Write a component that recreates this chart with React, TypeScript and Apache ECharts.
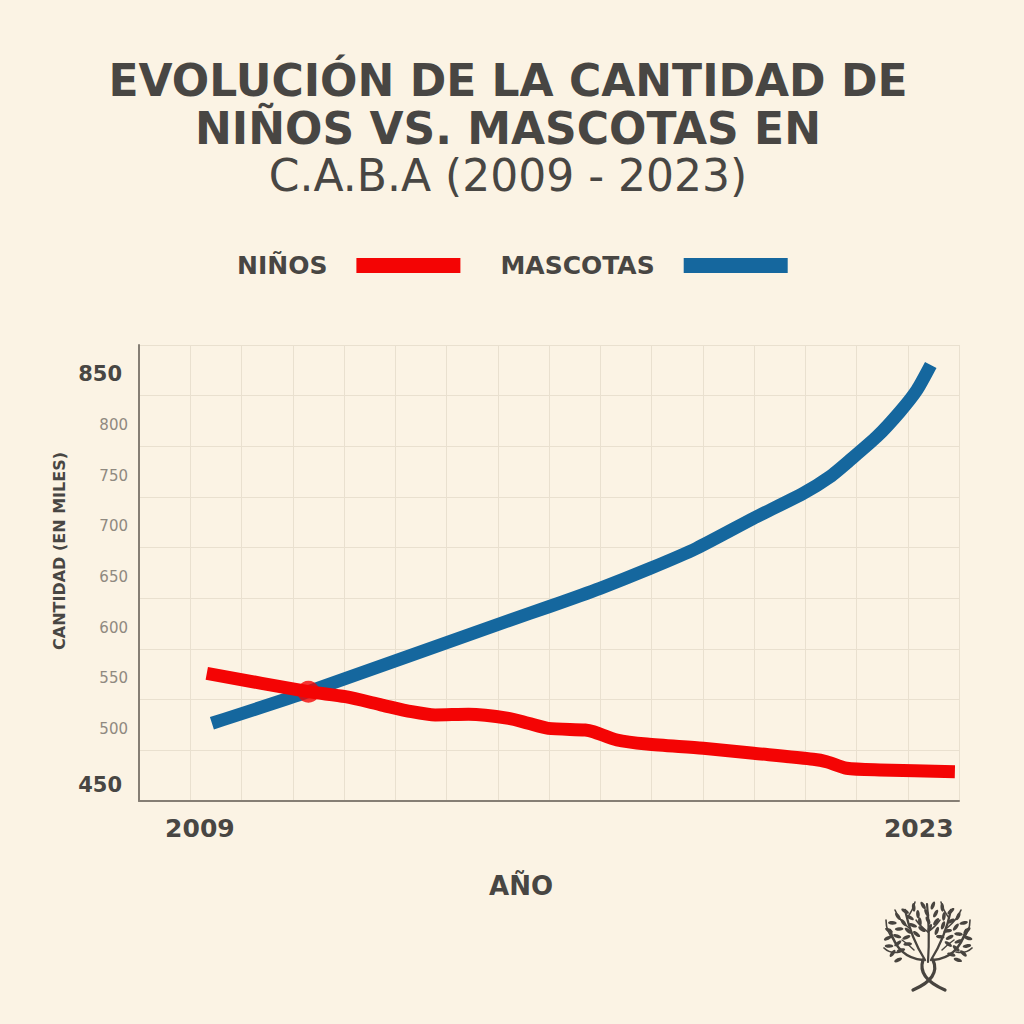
import React, { useEffect, useRef } from 'react';
import * as echarts from 'echarts';

// ---------- text ----------
const TITLE_LINES = ['EVOLUCIÓN DE LA CANTIDAD DE', 'NIÑOS VS. MASCOTAS EN', 'C.A.B.A (2009 - 2023)'];
const SERIES_NAMES = ['NIÑOS', 'MASCOTAS'];
const X_AXIS_NAME = 'AÑO';
const Y_AXIS_NAME = 'CANTIDAD (EN MILES)';

// ---------- ticks ----------
const X_TICK_LABELS = [2009, 2023];
const Y_TICK_LABELS = [450, 500, 550, 600, 650, 700, 750, 800, 850];
const Y_BOLD_LABELS = [450, 850];

// ---------- data (miles) ----------
const NINOS_YEARS = [2008.9, 2010.88, 2011.6, 2012.31, 2012.89, 2013.35, 2014.0, 2014.78, 2015.16, 2015.55, 2016.27, 2016.43, 2016.89, 2017.47, 2018.57, 2019.55, 2020.71, 2020.97, 2021.36, 2022.01, 2023.47];
const NINOS_VALUES = [555.0, 536.9, 531.9, 523.7, 517.1, 513.9, 514.6, 510.6, 505.7, 500.7, 499.1, 497.4, 489.2, 485.2, 481.0, 476.1, 470.2, 467.8, 461.3, 459.6, 457.9];

const MASCOTAS_YEARS = [2009.0, 2010.88, 2014.81, 2015.56, 2016.56, 2017.54, 2018.44, 2019.55, 2020.52, 2021.04, 2021.43, 2021.95, 2022.4, 2022.73, 2023.0];
const MASCOTAS_VALUES = [505.7, 536.9, 607.6, 620.7, 638.9, 658.6, 678.4, 708.0, 732.7, 749.1, 765.5, 788.5, 813.2, 834.6, 859.3];

const CROSS_YEAR = [2010.88];
const CROSS_VALUE = [536.9];

// axis ranges
const X_MIN = 2007.58;
const X_MAX = 2023.55;
const Y_MIN = 429;
const Y_MAX = 879;
const GRID_COLS = 16;
const GRID_ROWS = 9;

// ---------- styles ----------
const BG = '#fbf3e4';
const DARK = '#484643';
const GRAY_LABEL = '#8f8980';
const AXIS_COLOR = '#857e74';
const GRID_COLOR = '#e9e0cf';
const RED = '#f40404';
const BLUE = '#15679e';
const FONT = '"DejaVu Sans", sans-serif';

function buildLogo(): any[] {
  const cx = 928;
  const cy = 938;
  const c = '#48443f';
  const els: any[] = [];
  const st = (w: number) => ({ stroke: c, lineWidth: w, fill: null, lineCap: 'round' });
  const curve = (x1: number, y1: number, qx: number, qy: number, x2: number, y2: number, w: number) => {
    els.push({ type: 'bezierCurve', shape: { x1, y1, cpx1: qx, cpy1: qy, x2, y2 }, style: st(w) });
  };
  // crossed trunk / roots
  curve(913, 990, 941, 978, 933, 960, 3.2);
  curve(945, 990, 917, 978, 923, 960, 3.2);
  // main branches
  curve(923, 960, 898, 958, 890, 930, 2.6);
  curve(933, 960, 958, 958, 966, 930, 2.6);
  curve(925, 960, 911, 938, 905, 910, 2.3);
  curve(931, 960, 945, 938, 951, 910, 2.3);
  curve(928, 962, 930, 932, 927, 904, 2.2);
  // secondary branches
  curve(900, 952, 890, 954, 884, 948, 1.7);
  curve(956, 952, 966, 954, 972, 948, 1.7);
  curve(894, 940, 886, 932, 886, 920, 1.6);
  curve(962, 940, 970, 932, 970, 920, 1.6);
  curve(909, 928, 899, 920, 895, 910, 1.6);
  curve(947, 928, 957, 920, 961, 910, 1.6);
  curve(907, 918, 913, 910, 915, 902, 1.5);
  curve(949, 918, 943, 910, 941, 902, 1.5);
  curve(928, 932, 920, 926, 916, 920, 1.5);
  curve(928, 932, 936, 926, 940, 920, 1.5);
  curve(914, 950, 908, 944, 902, 940, 1.5);
  curve(942, 950, 948, 944, 954, 940, 1.5);
  // leaves
  const rings = [
    { r: 39, from: -222, to: 42, n: 20, off: 0 },
    { r: 30, from: -215, to: 35, n: 16, off: 6 },
    { r: 21, from: -200, to: 20, n: 11, off: 0 },
    { r: 12, from: -165, to: -15, n: 5, off: 8 },
  ];
  rings.forEach((ring) => {
    for (let i = 0; i < ring.n; i++) {
      const a = ring.from + ((ring.to - ring.from) * i) / (ring.n - 1) + ring.off;
      const rad = (a * Math.PI) / 180;
      const x = cx + ring.r * 1.03 * Math.cos(rad);
      const y = cy + ring.r * 0.84 * Math.sin(rad);
      els.push({
        type: 'ellipse',
        x,
        y,
        rotation: ((90 - a + (i % 2 ? 25 : -15)) * Math.PI) / 180,
        shape: { cx: 0, cy: 0, rx: 1.8, ry: 4.3 },
        style: { fill: c },
      });
    }
  });
  return els;
}

function titleText(text: string, y: number, bold: boolean) {
  return {
    type: 'text',
    x: 508,
    y,
    style: {
      text,
      fill: DARK,
      font: `${bold ? 'bold' : 'normal'} 44px ${FONT}`,
      textAlign: 'center',
      textVerticalAlign: 'middle',
      align: 'center',
      verticalAlign: 'middle',
    },
  };
}

export default function App() {
  const ref = useRef<HTMLDivElement>(null);

  useEffect(() => {
    if (!ref.current) return;
    const chart = echarts.init(ref.current, undefined, { renderer: 'svg' });
    const ninos = NINOS_YEARS.map((x, i) => [x, NINOS_VALUES[i]]);
    const mascotas = MASCOTAS_YEARS.map((x, i) => [x, MASCOTAS_VALUES[i]]);
    const cross = CROSS_YEAR.map((x, i) => [x, CROSS_VALUE[i]]);

    const option: any = {
      animation: false,
      backgroundColor: BG,
      textStyle: { fontFamily: FONT },
      grid: { left: 139, right: 65, top: 345, bottom: 223, containLabel: false },
      legend: {
        left: 237,
        top: 253,
        padding: 0,
        itemGap: 40,
        itemWidth: 104,
        itemHeight: 15,
        icon: 'rect',
        align: 'right',
        selectedMode: false,
        data: SERIES_NAMES,
        textStyle: { fontFamily: FONT, fontWeight: 'bold', fontSize: 25, color: DARK, padding: [0, 24, 0, 0] },
      },
      xAxis: [
        {
          type: 'value',
          min: X_MIN,
          max: X_MAX,
          name: X_AXIS_NAME,
          nameLocation: 'middle',
          nameGap: 72,
          nameTextStyle: { fontFamily: FONT, fontWeight: 'bold', fontSize: 26, color: DARK, padding: [0, 56, 0, 0] },
          axisLine: { show: true, onZero: false, lineStyle: { color: AXIS_COLOR, width: 2 } },
          axisTick: { show: false },
          splitLine: { show: false },
          axisLabel: {
            customValues: X_TICK_LABELS,
            formatter: (v: number) => String(v),
            margin: 15,
            fontFamily: FONT,
            fontSize: 25,
            fontWeight: 'bold',
            color: DARK,
            padding: [0, 24, 0, 0],
          },
        },
        {
          type: 'value',
          min: 0,
          max: GRID_COLS,
          interval: 1,
          position: 'top',
          axisLine: { show: false },
          axisTick: { show: false },
          axisLabel: { show: false },
          splitLine: { show: true, lineStyle: { color: GRID_COLOR, width: 1 } },
        },
      ],
      yAxis: [
        {
          type: 'value',
          min: Y_MIN,
          max: Y_MAX,
          name: Y_AXIS_NAME,
          nameLocation: 'middle',
          nameGap: 67,
          nameTextStyle: { fontFamily: FONT, fontWeight: 'bold', fontSize: 16, color: DARK, padding: [0, 0, 0, 44] },
          axisLine: { show: true, onZero: false, lineStyle: { color: AXIS_COLOR, width: 2 } },
          axisTick: { show: false },
          splitLine: { show: false },
          axisLabel: {
            customValues: Y_TICK_LABELS,
            margin: 11,
            formatter: (v: number) =>
              Y_BOLD_LABELS.indexOf(v) >= 0 ? `{${v === Y_BOLD_LABELS[0] ? 'bl' : 'bh'}|${v}}` : `{n|${v}}`,
            rich: {
              n: { fontFamily: FONT, fontSize: 15, color: GRAY_LABEL },
              bh: { fontFamily: FONT, fontSize: 21, fontWeight: 'bold', color: DARK, padding: [0, 6, 0, 0] },
              bl: { fontFamily: FONT, fontSize: 21, fontWeight: 'bold', color: DARK, padding: [10, 6, 0, 0] },
            },
          },
        },
        {
          type: 'value',
          min: 0,
          max: GRID_ROWS,
          interval: 1,
          position: 'right',
          axisLine: { show: false },
          axisTick: { show: false },
          axisLabel: { show: false },
          splitLine: { show: true, lineStyle: { color: GRID_COLOR, width: 1 } },
        },
      ],
      series: [
        {
          name: SERIES_NAMES[1],
          type: 'line',
          data: mascotas,
          showSymbol: false,
          smooth: 0.2,
          color: BLUE,
          itemStyle: { color: BLUE },
          lineStyle: { color: BLUE, width: 13, cap: 'butt', join: 'round' },
          z: 3,
        },
        {
          name: SERIES_NAMES[0],
          type: 'line',
          data: ninos,
          showSymbol: false,
          smooth: 0.25,
          color: RED,
          itemStyle: { color: RED },
          lineStyle: { color: RED, width: 13, cap: 'butt', join: 'round' },
          z: 4,
        },
        {
          name: 'cruce',
          type: 'scatter',
          data: cross,
          symbolSize: 22,
          itemStyle: { color: RED },
          z: 5,
        },
      ],
      graphic: [
        titleText(TITLE_LINES[0], 80, true),
        titleText(TITLE_LINES[1], 128, true),
        titleText(TITLE_LINES[2], 175, false),
        ...buildLogo(),
      ],
    };
    chart.setOption(option);
    return () => chart.dispose();
  }, []);

  return <div ref={ref} style={{ position: 'absolute', left: 0, top: 0, width: 1024, height: 1024 }} />;
}
